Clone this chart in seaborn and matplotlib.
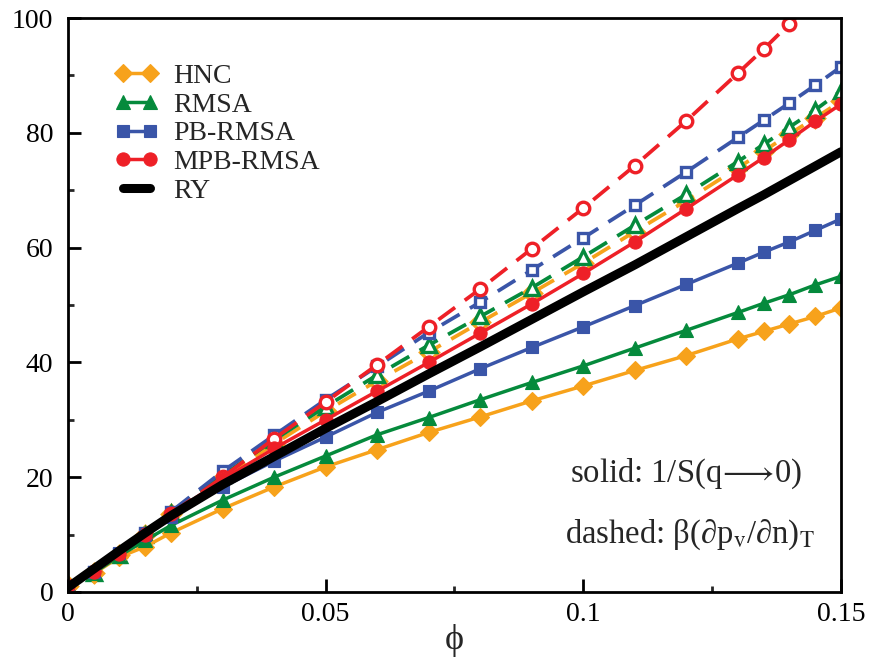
import matplotlib
matplotlib.use("Agg")
import matplotlib.pyplot as plt
import seaborn as sns
import numpy as np
import pandas as pd
from matplotlib.ticker import MultipleLocator, FuncFormatter

sns.set_theme(style="white")
plt.rcParams['font.family'] = ['Liberation Serif', 'DejaVu Serif']
plt.rcParams['mathtext.fontset'] = 'stix'

phi = [0, 0.005, 0.01, 0.015, 0.02, 0.03, 0.04, 0.05, 0.06, 0.07, 0.08,
       0.09, 0.1, 0.11, 0.12, 0.13, 0.135, 0.14, 0.145, 0.15]

# solid: 1/S(q->0)
hnc_s = [0.9, 3.2, 6.1, 7.9, 10.3, 14.5, 18.3, 21.8, 24.8, 27.8, 30.5,
         33.3, 35.9, 38.6, 41.2, 44.1, 45.4, 46.7, 48.0, 49.5]
rmsa_s = [1.0, 3.3, 6.3, 9.0, 11.6, 16.0, 20.0, 23.7, 27.4, 30.4, 33.5,
          36.5, 39.4, 42.5, 45.6, 48.7, 50.3, 51.8, 53.5, 55.0]
pb_s = [1.0, 3.5, 6.8, 10.0, 13.0, 18.3, 22.8, 27.0, 31.3, 35.0, 38.9,
        42.6, 46.2, 49.9, 53.6, 57.3, 59.2, 61.0, 63.0, 65.0]
mpb_s = [1.0, 3.5, 6.6, 10.0, 13.5, 19.6, 25.0, 30.0, 35.0, 40.0, 45.1,
         50.2, 55.5, 61.0, 66.8, 72.7, 75.7, 78.8, 82.0, 85.0]
ry = [0.8, 4.0, 7.2, 10.3, 13.3, 18.7, 23.6, 28.5, 33.2, 38.0, 42.7,
      47.5, 52.3, 57.0, 61.9, 66.8, 69.2, 71.7, 74.2, 76.7]

# dashed: beta (dp_v/dn)_T
hnc_d = [1.0, 3.3, 6.5, 10.0, 13.5, 19.8, 25.8, 31.5, 36.8, 41.8, 47.0,
         52.1, 57.3, 62.8, 68.2, 73.9, 76.8, 79.8, 82.6, 85.5]
rmsa_d = [1.0, 3.3, 6.5, 10.0, 13.8, 20.3, 26.5, 32.3, 37.8, 43.0, 48.0,
          53.0, 58.4, 63.9, 69.3, 75.0, 78.0, 81.0, 84.0, 87.3]
pb_d = [1.0, 3.5, 6.7, 10.2, 14.0, 21.0, 27.3, 33.5, 39.3, 45.2, 50.5,
        56.1, 61.7, 67.4, 73.2, 79.2, 82.2, 85.2, 88.3, 91.5]
mpb_d = [1.0, 3.5, 6.5, 10.0, 13.6, 20.0, 26.7, 33.1, 39.6, 46.2, 52.8,
         59.8, 66.9, 74.3, 82.1, 90.4, 94.6, 99.0, 103.5, 108.0]

labels = ["HNC", "RMSA", "PB-RMSA", "MPB-RMSA", "RY"]
colors = {"HNC": "#F7A21B", "RMSA": "#058A3C", "PB-RMSA": "#3A55A8",
          "MPB-RMSA": "#EE2027", "RY": "#000000"}
markers = {"HNC": "D", "RMSA": "^", "PB-RMSA": "s", "MPB-RMSA": "o"}
msizes = {"HNC": 9.5, "RMSA": 10.5, "PB-RMSA": 8, "MPB-RMSA": 9.5}

fig = plt.figure(figsize=(8.71, 6.68), dpi=100)
ax = fig.add_axes([0.078, 0.1138, 0.8876, 0.8592])

dashed = {"HNC": hnc_d, "RMSA": rmsa_d, "PB-RMSA": pb_d, "MPB-RMSA": mpb_d}
solid = {"HNC": hnc_s, "RMSA": rmsa_s, "PB-RMSA": pb_s, "MPB-RMSA": mpb_s}

for name in ["HNC", "RMSA", "PB-RMSA", "MPB-RMSA"]:
    sns.lineplot(x=phi, y=dashed[name], ax=ax, color=colors[name],
                 linestyle=(0, (5.5, 3.2)), linewidth=2.7,
                 marker=markers[name], markersize=msizes[name] * 0.95,
                 markerfacecolor="white", markeredgecolor=colors[name],
                 markeredgewidth=2.4, sort=False, estimator=None, legend=False)

handles = []
for name in ["HNC", "RMSA", "PB-RMSA", "MPB-RMSA"]:
    n0 = len(ax.get_lines())
    sns.lineplot(x=phi, y=solid[name], ax=ax, color=colors[name],
                 linestyle="-", linewidth=2.5,
                 marker=markers[name], markersize=msizes[name],
                 markerfacecolor=colors[name], markeredgecolor=colors[name],
                 markeredgewidth=0.8, sort=False, estimator=None, legend=False)
    line = ax.get_lines()[n0]
    line.set_label(name)
    handles.append(line)

n0 = len(ax.get_lines())
sns.lineplot(x=phi, y=ry, ax=ax, color=colors["RY"], linewidth=6.5,
             sort=False, estimator=None, legend=False)
ry_line = ax.get_lines()[n0]
ry_line.set_label("RY")
handles.append(ry_line)

ax.set_xlim(0, 0.15)
ax.set_ylim(0, 100)
ax.xaxis.set_major_locator(MultipleLocator(0.05))
ax.xaxis.set_minor_locator(MultipleLocator(0.025))
ax.yaxis.set_major_locator(MultipleLocator(20))
ax.yaxis.set_minor_locator(MultipleLocator(10))
ax.xaxis.set_major_formatter(FuncFormatter(lambda v, p: f"{v:g}"))
ax.yaxis.set_major_formatter(FuncFormatter(lambda v, p: f"{v:g}"))

ax.tick_params(axis="both", which="major", direction="in", length=9.5, width=2.0,
               labelsize=20, colors="black", bottom=True, left=True,
               top=False, right=False)
ax.tick_params(axis="both", which="minor", direction="in", length=4.5, width=2.0,
               bottom=True, left=True, top=False, right=False)
ax.tick_params(axis="x", which="major", pad=7)
ax.tick_params(axis="y", which="major", pad=10.5)

for sp in ax.spines.values():
    sp.set_visible(True)
    sp.set_color("black")
    sp.set_linewidth(2.0)

ax.set_xlabel("ϕ", fontsize=26, labelpad=-2)
ax.set_ylabel("")

leg = ax.legend(handles=handles, loc="upper left", bbox_to_anchor=(0.0608, 0.921),
                frameon=False, fontsize=20, numpoints=2, handlelength=1.55,
                handletextpad=0.54, labelspacing=0.12, borderaxespad=0,
                borderpad=0)

ax.text(0.949, 0.1916, r"solid: 1/S(q$\!\longrightarrow\!$0)", transform=ax.transAxes,
        ha="right", va="baseline", fontsize=23.5)
ax.text(0.966, 0.0854, r"dashed: β(∂p$_\mathrm{v}$/∂n)$_\mathrm{T}$",
        transform=ax.transAxes, ha="right", va="baseline", fontsize=23.5)

fig.savefig("out.png", dpi=100)
